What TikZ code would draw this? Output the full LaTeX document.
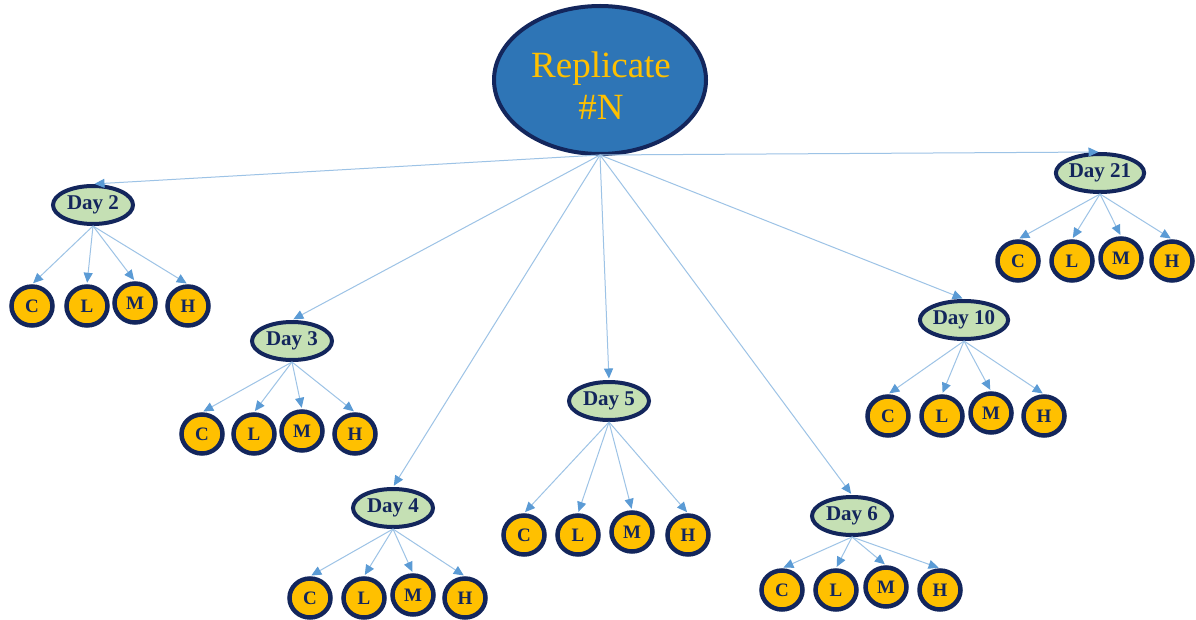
\documentclass[tikz,border=0pt]{standalone}
\usepackage{fontspec}
\setmainfont{Liberation Serif}
\usetikzlibrary{arrows.meta,shapes.geometric}
\definecolor{navy}{HTML}{13265C}
\definecolor{rootblue}{HTML}{2E75B6}
\definecolor{gold}{HTML}{FFC000}
\definecolor{daygreen}{HTML}{C5E0B4}
\definecolor{linkblue}{HTML}{9DC3E6}
\definecolor{tipblue}{HTML}{5B9BD5}
\tikzset{
  rootnode/.style={ellipse,draw=navy,line width=4pt,fill=rootblue,minimum width=212pt,minimum height=148pt,inner sep=0pt,text=gold,font=\fontsize{37}{42}\selectfont,align=center},
  daynode/.style={ellipse,draw=navy,line width=4pt,fill=daygreen,minimum width=80pt,minimum height=38pt,inner sep=0pt,text=navy,font=\fontsize{21}{22}\selectfont\bfseries},
  leaf/.style={ellipse,draw=navy,line width=4.5pt,fill=gold,minimum width=41pt,minimum height=39pt,inner sep=0pt,text=navy,font=\fontsize{19}{20}\selectfont\bfseries},
  link/.style={draw=linkblue,line width=1pt,-{Triangle[length=10pt,width=9pt,color=tipblue]},shorten >=1.5pt}
}
\begin{document}
\begin{tikzpicture}[x=1pt,y=-1pt]
\useasboundingbox (0,0) rectangle (1196,620);
\fill[white] (0,0) rectangle (1196,620);
% day nodes
\node[daynode] (d2) at (93,205) {Day 2};
\node[daynode] (d3) at (292,341) {Day 3};
\node[daynode] (d4) at (393,508) {Day 4};
\node[daynode] (d5) at (609,401) {Day 5};
\node[daynode] (d6) at (852,516) {Day 6};
\node[daynode] (d10) at (964,320) {Day 10};
\node[daynode] (d21) at (1100,173) {Day 21};
% leaves
\foreach \d/\y/\xc/\xl/\xm/\xh in {d2/306/32/87/135/188, d3/434/202/254/302/355, d4/598/310/364/413/465, d5/535/524/578/632/688, d6/590/782/836/886/940, d10/416/888/942/991/1044, d21/261/1018/1072/1121/1172}{
  \node[leaf] (\d c) at (\xc,\y) {C};
  \node[leaf] (\d l) at (\xl,\y) {L};
  \node[leaf] (\d m) at (\xm,\y-3) {M};
  \node[leaf] (\d h) at (\xh,\y) {H};
  \draw[link] (\d.south) -- (\d c.north);
  \draw[link] (\d.south) -- (\d l.north);
  \draw[link] (\d.south) -- (\d m.north);
  \draw[link] (\d.south) -- (\d h.north);
}
% root
\node[rootnode] (root) at (600,80) {};
\node[text=gold,font=\fontsize{37}{42}\selectfont,align=center] (roottext) at (601,86) {Replicate\\\#N};
\coordinate (rs) at (600,155);
\foreach \d in {d2,d3,d4,d5,d6,d10,d21}{
  \draw[link] (rs) -- (\d.north);
}
\end{tikzpicture}
\end{document}
